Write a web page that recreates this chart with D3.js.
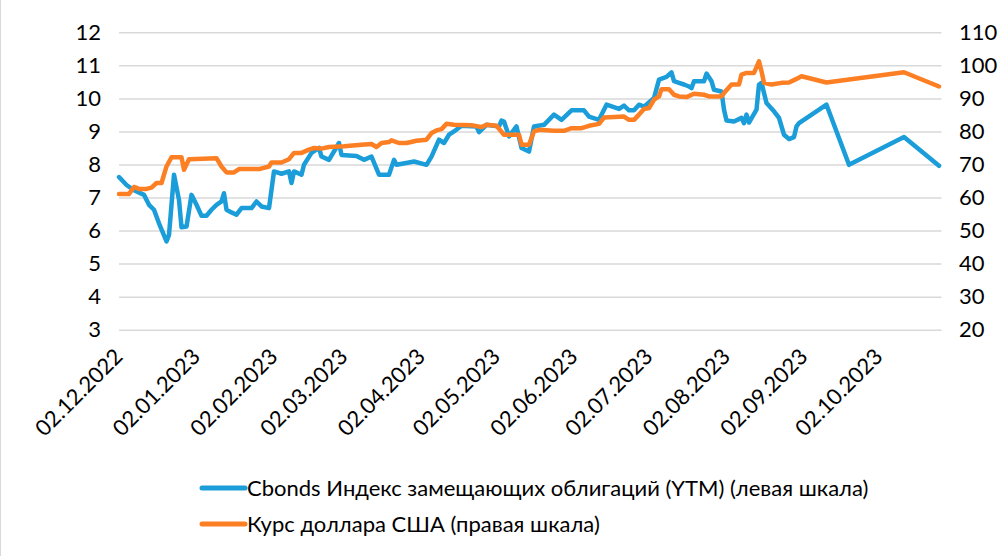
<!DOCTYPE html>
<html>
<head>
<meta charset="utf-8">
<script src="https://cdn.jsdelivr.net/npm/d3@7"></script>
<style>
  body { margin: 0; background: #fff; }
  svg { display: block; font-family: Lato, "Open Sans", sans-serif; }
</style>
</head>
<body>
<script>
// Cbonds index of replacement bonds, YTM %, left axis
var yieldDates = ["2022-12-02","2022-12-05","2022-12-08","2022-12-12","2022-12-14","2022-12-16","2022-12-18",
  "2022-12-21","2022-12-22","2022-12-24","2022-12-26","2022-12-27","2022-12-29","2022-12-31","2023-01-02",
  "2023-01-04","2023-01-06","2023-01-08","2023-01-10","2023-01-12","2023-01-13","2023-01-14","2023-01-16",
  "2023-01-18","2023-01-20","2023-01-24","2023-01-26","2023-01-28","2023-01-31","2023-02-02","2023-02-05",
  "2023-02-08","2023-02-09","2023-02-10","2023-02-13","2023-02-14","2023-02-17","2023-02-20","2023-02-21",
  "2023-02-24","2023-02-28","2023-03-01","2023-03-07","2023-03-10","2023-03-13","2023-03-16","2023-03-20",
  "2023-03-22","2023-03-23","2023-03-28","2023-03-30","2023-04-04","2023-04-06","2023-04-09","2023-04-11",
  "2023-04-13","2023-04-15","2023-04-18","2023-04-24","2023-04-25","2023-04-28","2023-05-03","2023-05-04",
  "2023-05-05","2023-05-07","2023-05-10","2023-05-12","2023-05-15","2023-05-17","2023-05-21","2023-05-25",
  "2023-05-28","2023-06-01","2023-06-06","2023-06-08","2023-06-12","2023-06-15","2023-06-20","2023-06-22",
  "2023-06-24","2023-06-26","2023-06-28","2023-06-30","2023-07-04","2023-07-06","2023-07-09","2023-07-11",
  "2023-07-12","2023-07-14","2023-07-16","2023-07-18","2023-07-19","2023-07-20","2023-07-24","2023-07-25",
  "2023-07-27","2023-07-28","2023-07-31","2023-08-01","2023-08-02","2023-08-05","2023-08-08","2023-08-09",
  "2023-08-10","2023-08-11","2023-08-14","2023-08-15","2023-08-16","2023-08-18","2023-08-21","2023-08-23",
  "2023-08-25","2023-08-27","2023-08-29","2023-08-30","2023-08-31","2023-09-11","2023-09-20","2023-10-12",
  "2023-10-26"];
var yieldValues = [7.62,7.38,7.22,7.08,6.78,6.63,6.22,
  5.67,5.87,7.69,6.93,6.10,6.12,7.08,6.78,
  6.45,6.45,6.63,6.78,6.88,7.13,6.63,6.55,
  6.48,6.68,6.68,6.88,6.73,6.68,7.79,7.72,
  7.79,7.44,7.79,7.69,7.99,8.35,8.50,8.24,
  8.14,8.65,8.29,8.26,8.14,8.24,7.69,7.69,
  8.14,7.99,8.06,8.09,7.99,8.24,8.75,8.65,
  8.90,9.00,9.17,9.15,8.98,9.20,9.15,9.33,
  9.30,8.85,9.15,8.50,8.39,9.15,9.20,9.51,
  9.35,9.64,9.64,9.45,9.35,9.81,9.68,9.78,
  9.64,9.64,9.81,9.75,10.01,10.57,10.65,10.79,
  10.52,10.47,10.42,10.36,10.31,10.52,10.52,10.75,
  10.52,10.26,10.21,9.66,9.33,9.30,9.41,9.25,
  9.51,9.27,9.66,10.42,10.47,9.86,9.61,9.41,
  8.90,8.77,8.83,9.15,9.25,9.81,7.99,8.83,
  7.96];

// USD/RUB rate, right axis
var usdDates = ["2022-12-02","2022-12-06","2022-12-08","2022-12-10","2022-12-13","2022-12-15","2022-12-17",
  "2022-12-19","2022-12-21","2022-12-23","2022-12-27","2022-12-28","2022-12-30","2023-01-10","2023-01-12",
  "2023-01-14","2023-01-17","2023-01-19","2023-01-27","2023-01-31","2023-02-01","2023-02-05","2023-02-08",
  "2023-02-10","2023-02-13","2023-02-16","2023-02-18","2023-02-21","2023-02-24","2023-03-02","2023-03-09",
  "2023-03-13","2023-03-15","2023-03-17","2023-03-20","2023-03-21","2023-03-24","2023-03-27","2023-03-31",
  "2023-04-04","2023-04-06","2023-04-08","2023-04-10","2023-04-12","2023-04-15","2023-04-22","2023-04-26",
  "2023-04-28","2023-05-02","2023-05-05","2023-05-11","2023-05-12","2023-05-15","2023-05-17","2023-05-19",
  "2023-05-25","2023-05-29","2023-06-01","2023-06-05","2023-06-08","2023-06-12","2023-06-14","2023-06-18",
  "2023-06-22","2023-06-24","2023-06-26","2023-06-28","2023-06-30","2023-07-02","2023-07-04","2023-07-06",
  "2023-07-07","2023-07-10","2023-07-12","2023-07-14","2023-07-17","2023-07-20","2023-07-24","2023-07-26",
  "2023-07-31","2023-08-01","2023-08-04","2023-08-07","2023-08-08","2023-08-10","2023-08-13","2023-08-15",
  "2023-08-16","2023-08-17","2023-08-20","2023-08-24","2023-08-27","2023-08-30","2023-09-01","2023-09-11",
  "2023-10-12","2023-10-26"];
var usdValues = [61.1,61.1,63.2,62.6,62.6,63.0,64.4,
  64.4,69.4,72.2,72.2,68.4,71.6,71.9,69.4,
  67.6,67.6,68.6,68.6,69.4,70.6,70.6,71.6,
  73.5,73.5,74.5,75.0,74.8,75.3,75.5,76.0,
  76.2,75.3,76.5,76.8,77.3,76.5,76.5,77.2,
  77.5,79.5,80.3,80.7,82.3,82.0,81.9,81.3,
  82.0,81.7,79.0,79.0,76.0,76.0,80.0,80.5,
  80.2,80.2,81.0,81.0,81.7,82.3,84.2,84.4,
  84.5,83.5,83.5,85.1,86.8,87.1,89.6,90.6,
  92.8,92.8,91.1,90.6,90.4,91.4,91.1,90.6,
  90.6,91.6,94.2,94.2,97.2,97.7,97.7,101.2,
  98.2,94.7,94.2,94.7,94.8,95.9,96.7,94.8,
  97.9,93.6];

var dateLabels = ["02.12.2022","02.01.2023","02.02.2023","02.03.2023","02.04.2023","02.05.2023",
  "02.06.2023","02.07.2023","02.08.2023","02.09.2023","02.10.2023"];
var leftTicks = [3,4,5,6,7,8,9,10,11,12];
var rightTicks = [20,30,40,50,60,70,80,90,100,110];
var seriesNames = ["Cbonds Индекс замещающих облигаций (YTM) (левая шкала)",
  "Курс доллара США (правая шкала)"];
var seriesColors = ["#1b9dd9", "#fd7f24"];

var width = 1004,
    height = 556,
    plotLeft = 119,
    plotRight = 941.5,
    plotTop = 32.3,
    plotBottom = 329.7;

var parseIso = d3.utcParse("%Y-%m-%d"),
    parseLabel = d3.utcParse("%d.%m.%Y");

var svg = d3.select("body").append("svg")
    .attr("width", width)
    .attr("height", height);

// chart frame
svg.append("line")
    .attr("x1", 0.5).attr("x2", 0.5)
    .attr("y1", 0).attr("y2", height)
    .attr("stroke", "#d9d9d9");

var x = d3.scaleUtc()
    .domain([parseIso("2022-12-02"), parseIso("2023-10-27")])
    .range([plotLeft, plotRight]);

var yLeft = d3.scaleLinear().domain([3, 12]).range([plotBottom, plotTop]);
var yRight = d3.scaleLinear().domain([20, 110]).range([plotBottom, plotTop]);

// gridlines
svg.append("g")
    .attr("transform", "translate(" + plotLeft + ",0)")
    .call(d3.axisLeft(yLeft).tickValues(leftTicks).tickSize(-(plotRight - plotLeft)).tickFormat(""))
    .call(function(g) { g.select(".domain").remove(); })
    .selectAll("line")
    .attr("stroke", "#d9d9d9")
    .attr("stroke-width", 1.5);

// left axis labels
svg.append("g")
    .attr("transform", "translate(101,0)")
    .call(d3.axisLeft(yLeft).tickValues(leftTicks).tickSize(0).tickPadding(0))
    .call(function(g) { g.select(".domain").remove(); })
    .selectAll("text")
    .attr("font-family", "Lato, sans-serif")
    .attr("font-size", 22)
    .attr("fill", "#000");

// right axis labels
svg.append("g")
    .attr("transform", "translate(959,0)")
    .call(d3.axisRight(yRight).tickValues(rightTicks).tickSize(0).tickPadding(0))
    .call(function(g) { g.select(".domain").remove(); })
    .selectAll("text")
    .attr("font-family", "Lato, sans-serif")
    .attr("font-size", 22)
    .attr("fill", "#000");

// date labels, rotated
svg.append("g")
    .selectAll("text")
    .data(dateLabels)
    .enter().append("text")
    .attr("transform", function(d) {
        return "translate(" + (x(parseLabel(d)) + 5) + ",358) rotate(-45)";
    })
    .attr("text-anchor", "end")
    .attr("font-size", 22)
    .text(function(d) { return d; });

var yieldData = yieldDates.map(function(d, i) { return [parseIso(d), yieldValues[i]]; });
var usdData = usdDates.map(function(d, i) { return [parseIso(d), usdValues[i]]; });

svg.append("path")
    .datum(yieldData)
    .attr("fill", "none")
    .attr("stroke", seriesColors[0])
    .attr("stroke-width", 4.5)
    .attr("stroke-linejoin", "round")
    .attr("stroke-linecap", "round")
    .attr("d", d3.line()
        .x(function(d) { return x(d[0]); })
        .y(function(d) { return yLeft(d[1]); }));

svg.append("path")
    .datum(usdData)
    .attr("fill", "none")
    .attr("stroke", seriesColors[1])
    .attr("stroke-width", 4.5)
    .attr("stroke-linejoin", "round")
    .attr("stroke-linecap", "round")
    .attr("d", d3.line()
        .x(function(d) { return x(d[0]); })
        .y(function(d) { return yRight(d[1]); }));

// legend
var legend = svg.append("g")
    .selectAll("g")
    .data(seriesNames)
    .enter().append("g")
    .attr("transform", function(d, i) { return "translate(0," + (488 + i * 36) + ")"; });

legend.append("line")
    .attr("x1", 202).attr("x2", 245)
    .attr("stroke", function(d, i) { return seriesColors[i]; })
    .attr("stroke-width", 5)
    .attr("stroke-linecap", "round");

legend.append("text")
    .attr("x", 247)
    .attr("y", 8)
    .attr("font-size", 22)
    .text(function(d) { return d; });
</script>
</body>
</html>
